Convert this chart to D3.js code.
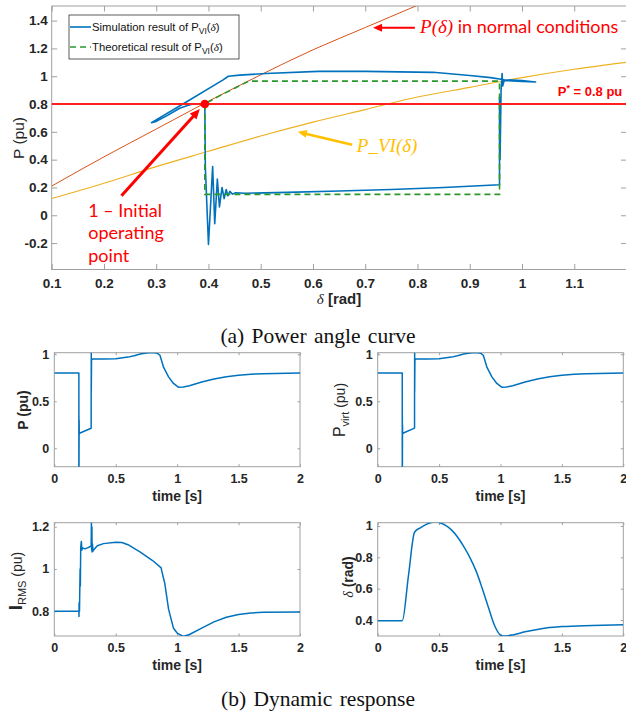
<!DOCTYPE html>
<html>
<head>
<meta charset="utf-8">
<script src="https://cdn.jsdelivr.net/npm/d3@7"></script>
<style>
  body { margin: 0; background: #fff; }
  svg { display: block; }
</style>
</head>
<body>
<svg id="chart" width="626" height="717"></svg>
<script>
// ---------- power angle plane (delta in rad, P in pu)
var pNormalDelta = [0.1, 0.2, 0.3, 0.4, 0.5, 0.6, 0.7, 0.8];
var pNormalP     = [0.21, 0.42, 0.62, 0.82, 1.01, 1.19, 1.35, 1.51];

var pVIDelta = [0.1, 0.2, 0.3, 0.4, 0.5, 0.6, 0.7, 0.8, 0.9, 1.0, 1.1, 1.2];
var pVIP     = [0.12, 0.23, 0.35, 0.46, 0.57, 0.67, 0.76, 0.85, 0.92, 0.99, 1.05, 1.10];

// simulated trajectory in the P-delta plane
var simDelta = [0.393, 0.394, 0.400, 0.408, 0.412, 0.417, 0.421, 0.426, 0.430, 0.434, 0.437, 0.441, 0.446, 0.452,
                0.47, 0.55, 0.65, 0.75, 0.85, 0.957,
                0.957, 0.958, 0.960, 0.962, 0.963, 0.966, 1.00, 1.026, 1.00, 0.966,
                0.94, 0.90, 0.83, 0.70, 0.61, 0.51, 0.46, 0.438, 0.428, 0.36, 0.291,
                0.30, 0.32, 0.345, 0.36, 0.37];
var simP     = [0.80, 0.35, -0.21, 0.35, -0.06, 0.26, 0.06, 0.20, 0.12, 0.185, 0.14, 0.172, 0.152, 0.162,
                0.158, 0.165, 0.175, 0.185, 0.20, 0.22,
                0.85, 0.40, 0.90, 1.02, 0.93, 0.97, 0.962, 0.958, 0.968, 0.975,
                0.99, 1.005, 1.028, 1.035, 1.035, 1.02, 1.008, 1.0, 0.974, 0.82, 0.666,
                0.675, 0.715, 0.77, 0.79, 0.80];

// theoretical trajectory
var theoDelta = [0.393, 0.393, 0.957, 0.957, 0.477, 0.45, 0.42, 0.393];
var theoP     = [0.80, 0.15, 0.15, 0.965, 0.965, 0.914, 0.857, 0.80];

var pRef = 0.8;
var initPoint = [0.393, 0.8];

var topXTicks = [0.1, 0.2, 0.3, 0.4, 0.5, 0.6, 0.7, 0.8, 0.9, 1, 1.1];
var topYTicks = [-0.2, 0, 0.2, 0.4, 0.6, 0.8, 1, 1.2, 1.4];

// ---------- dynamic response
var pTime  = [0, 0.2, 0.2, 0.2005, 0.201, 0.202, 0.203, 0.205, 0.3, 0.3, 0.301, 0.301, 0.303, 0.31,
              0.4, 0.5, 0.6, 0.65, 0.7, 0.75, 0.8, 0.84, 0.86, 0.89, 0.93, 0.97, 1.01, 1.05,
              1.1, 1.2, 1.3, 1.4, 1.5, 1.6, 1.7, 1.8, 2.0];
var pValue = [0.8, 0.8, -0.2, 0.35, -0.2, 0.3, 0.15, 0.16, 0.213, 0.45, 1.02, 0.6, 0.94, 0.95,
              0.95, 0.953, 0.97, 0.985, 1.003, 1.015, 1.02, 1.01, 0.99, 0.86, 0.76, 0.69, 0.65, 0.652,
              0.665, 0.705, 0.738, 0.762, 0.778, 0.788, 0.794, 0.797, 0.8];

var pVirtTime  = [0, 0.2, 0.2, 0.2005, 0.201, 0.202, 0.203, 0.205, 0.3, 0.3, 0.301, 0.301, 0.303, 0.31,
                  0.4, 0.5, 0.6, 0.65, 0.7, 0.75, 0.8, 0.84, 0.86, 0.89, 0.93, 0.97, 1.01, 1.05,
                  1.1, 1.2, 1.3, 1.4, 1.5, 1.6, 1.7, 1.8, 2.0];
var pVirtValue = [0.8, 0.8, -0.2, 0.35, -0.2, 0.25, 0.15, 0.16, 0.215, 0.45, 1.02, 0.6, 0.94, 0.95,
                  0.95, 0.953, 0.97, 0.985, 1.003, 1.015, 1.02, 1.01, 0.99, 0.86, 0.76, 0.69, 0.65, 0.652,
                  0.665, 0.705, 0.738, 0.762, 0.778, 0.788, 0.794, 0.797, 0.8];

var iTime  = [0, 0.2, 0.201, 0.202, 0.205, 0.21, 0.212, 0.215, 0.22, 0.225, 0.23, 0.25, 0.27, 0.29, 0.3,
              0.302, 0.304, 0.306, 0.308, 0.31, 0.315, 0.32, 0.35, 0.4, 0.5, 0.55, 0.6, 0.7, 0.8, 0.87,
              0.875, 0.9, 0.93, 0.97, 1.0, 1.05, 1.1, 1.2, 1.3, 1.4, 1.5, 1.6, 1.7, 2.0];
var iValue = [0.8, 0.8, 0.775, 0.84, 0.80, 1.0, 0.92, 1.10, 1.13, 1.09, 1.10, 1.095, 1.10, 1.105, 1.11,
              1.22, 1.09, 1.2, 1.08, 1.12, 1.085, 1.09, 1.11, 1.12, 1.127, 1.125, 1.115, 1.08, 1.04, 1.005,
              0.99, 0.93, 0.81, 0.72, 0.697, 0.681, 0.69, 0.72, 0.75, 0.772, 0.785, 0.792, 0.795, 0.797];

var dTime  = [0, 0.2, 0.25, 0.3, 0.35, 0.4, 0.47, 0.5, 0.55, 0.6, 0.65, 0.7, 0.75, 0.8, 0.85,
              0.9, 0.95, 1.0, 1.03, 1.1, 1.2, 1.3, 1.4, 1.5, 1.75, 2.0];
var dValue = [0.395, 0.395, 0.68, 0.96, 0.99, 1.012, 1.025, 1.022, 1.005, 0.975, 0.93, 0.87, 0.80, 0.715, 0.605,
              0.485, 0.368, 0.304, 0.298, 0.305, 0.325, 0.34, 0.352, 0.358, 0.365, 0.37];

var timeTicks = [0, 0.5, 1, 1.5, 2];
var pTicks    = [0, 0.5, 1];
var iTicks    = [0.8, 1, 1.2];
var dTicks    = [0.4, 0.6, 0.8, 1];

var BLUE = "#0072BD", ORANGE = "#D95319", GOLD = "#EDB120", GREEN = "#2a982a", RED = "#ff2020";
var SANS = "'Liberation Sans', Arial, sans-serif";
var SERIF = "'Liberation Serif', 'Times New Roman', serif";

var svg = d3.select("#chart");
var defs = svg.append("defs");

function zip(a, b) { return a.map(function(v, k) { return [v, b[k]]; }); }

// MATLAB-like box axes with inward ticks on all four sides
function frame(x, y, opt) {
    let left = x.range()[0], right = x.range()[1];
    let bottom = y.range()[0], top = y.range()[1];
    let g = svg.append("g");

    defs.append("clipPath").attr("id", opt.id)
        .append("rect").attr("x", left).attr("y", top)
        .attr("width", right - left).attr("height", bottom - top);

    g.append("rect").attr("x", left).attr("y", top)
        .attr("width", right - left).attr("height", bottom - top)
        .attr("fill", "none").attr("stroke", "#a0a0a0").attr("stroke-width", 1);

    let none = function() { return ""; };
    g.append("g").attr("transform", "translate(0," + bottom + ")")
        .call(d3.axisBottom(x).tickValues(opt.xTicks).tickFormat(String)
            .tickSizeInner(-opt.tick).tickSizeOuter(0).tickPadding(opt.xPad));
    g.append("g").attr("transform", "translate(0," + top + ")")
        .call(d3.axisTop(x).tickValues(opt.xTicks).tickFormat(none).tickSizeInner(-opt.tick).tickSizeOuter(0));
    g.append("g").attr("transform", "translate(" + left + ",0)")
        .call(d3.axisLeft(y).tickValues(opt.yTicks).tickFormat(String)
            .tickSizeInner(-opt.tick).tickSizeOuter(0).tickPadding(opt.yPad));
    g.append("g").attr("transform", "translate(" + right + ",0)")
        .call(d3.axisRight(y).tickValues(opt.yTicks).tickFormat(none).tickSizeInner(-opt.tick).tickSizeOuter(0));

    g.selectAll(".domain").remove();
    g.selectAll(".tick line").attr("stroke", "#a0a0a0");
    g.selectAll(".tick text")
        .attr("fill", "#262626")
        .attr("font-family", SANS)
        .attr("font-weight", "bold")
        .attr("font-size", opt.fontSize);
    return g;
}

// text made of styled parts (used for subscripts and math symbols)
function richText(g, x, y, parts, opt) {
    let t = g.append("text")
        .attr("x", x).attr("y", y)
        .attr("font-family", SANS)
        .attr("fill", opt.fill || "#262626")
        .attr("text-anchor", opt.anchor || "start");
    if (opt.rotate) {
        t.attr("transform", "rotate(-90," + x + "," + y + ")");
    }
    parts.forEach(function(p) {
        let s = t.append("tspan").text(p.t)
            .attr("font-size", p.size)
            .attr("font-weight", p.weight || "normal");
        if (p.family) s.attr("font-family", p.family);
        if (p.style) s.attr("font-style", p.style);
        if (p.dy) s.attr("dy", p.dy);
    });
    return t;
}

function arrow(g, from, to, color, width, headLen, headWid) {
    let dx = to[0] - from[0], dy = to[1] - from[1];
    let len = Math.sqrt(dx * dx + dy * dy);
    let ux = dx / len, uy = dy / len;
    let bx = to[0] - ux * headLen, by = to[1] - uy * headLen;
    g.append("line")
        .attr("x1", from[0]).attr("y1", from[1])
        .attr("x2", bx + ux).attr("y2", by + uy)
        .attr("stroke", color).attr("stroke-width", width);
    g.append("path")
        .attr("d", "M" + to[0] + "," + to[1] +
            "L" + (bx - uy * headWid / 2) + "," + (by + ux * headWid / 2) +
            "L" + (bx + uy * headWid / 2) + "," + (by - ux * headWid / 2) + "Z")
        .attr("fill", color);
}

// ---------------- (a) power angle curve
function drawTop() {
    let x = d3.scaleLinear().domain([0.1, 1.2]).range([51.7, 626.5]);
    let y = d3.scaleLinear().domain([-0.39, 1.505]).range([269.5, 6]);

    frame(x, y, { id: "clipTop", xTicks: topXTicks, yTicks: topYTicks, tick: 5.5,
                  xPad: 8.5, yPad: 4, fontSize: 13.5 });

    let smooth = d3.line().x(function(d) { return x(d[0]); }).y(function(d) { return y(d[1]); })
        .curve(d3.curveMonotoneX);
    let straight = d3.line().x(function(d) { return x(d[0]); }).y(function(d) { return y(d[1]); });

    let lines = svg.append("g").attr("clip-path", "url(#clipTop)");

    lines.append("path").datum(zip(pNormalDelta, pNormalP)).attr("d", smooth)
        .attr("fill", "none").attr("stroke", ORANGE).attr("stroke-width", 1);
    lines.append("path").datum(zip(pVIDelta, pVIP)).attr("d", smooth)
        .attr("fill", "none").attr("stroke", GOLD).attr("stroke-width", 1.1);

    lines.append("path").datum(zip(simDelta, simP)).attr("d", straight)
        .attr("fill", "none").attr("stroke", BLUE).attr("stroke-width", 1.6)
        .attr("stroke-linejoin", "round");
    lines.append("path").datum(zip(theoDelta, theoP)).attr("d", straight)
        .attr("fill", "none").attr("stroke", GREEN).attr("stroke-width", 1.6)
        .attr("stroke-dasharray", "6,4");

    lines.append("line")
        .attr("x1", x.range()[0]).attr("x2", x.range()[1])
        .attr("y1", y(pRef)).attr("y2", y(pRef))
        .attr("stroke", RED).attr("stroke-width", 2);

    lines.append("circle").attr("cx", x(initPoint[0])).attr("cy", y(initPoint[1]))
        .attr("r", 4.3).attr("fill", "#ff0000");

    // annotations
    let ann = svg.append("g");
    arrow(ann, [x(0.2335), y(0.14)], [x(0.3835), y(0.764)], "#ff0000", 3, 10, 9);
    arrow(ann, [x(0.795), y(1.349)], [x(0.715), y(1.349)], "#ff0000", 2, 9, 8);
    arrow(ann, [x(0.675), y(0.507)], [x(0.571), y(0.60)], "#FFC000", 2.5, 9, 8);

    ["1 \u2013 Initial", "operating", "point"].forEach(function(s, k) {
        ann.append("text").attr("x", x(0.17)).attr("y", y(-0.012) + k * 22.5)
            .attr("font-family", "Lato, 'Open Sans', sans-serif").attr("font-size", 18)
            .attr("fill", "#ff0000").text(s);
    });

    richText(ann, x(0.805), y(1.31), [
        { t: "P(\u03b4)", size: 19, family: SERIF, style: "italic" },
        { t: " in normal conditions", size: 18, family: "Lato, 'Open Sans', sans-serif" }
    ], { fill: "#ff0000" });

    richText(ann, x(0.684), y(0.455), [
        { t: "P_VI(\u03b4)", size: 19, family: SERIF, style: "italic" }
    ], { fill: "#FFC000" });

    richText(ann, x(1.192), y(0.855), [
        { t: "P", size: 13, weight: "bold" },
        { t: "*", size: 9, weight: "bold", dy: -5 },
        { t: " = 0.8 pu", size: 13, weight: "bold", dy: 5 }
    ], { fill: "#ff0000", anchor: "end" });

    // legend
    let leg = svg.append("g");
    leg.append("rect").attr("x", 69).attr("y", 15).attr("width", 170).attr("height", 44)
        .attr("fill", "#fff").attr("stroke", "#333").attr("stroke-width", 0.8);
    leg.append("line").attr("x1", 70).attr("x2", 91).attr("y1", 27).attr("y2", 27)
        .attr("stroke", BLUE).attr("stroke-width", 1.6);
    leg.append("line").attr("x1", 70).attr("x2", 91).attr("y1", 47).attr("y2", 47)
        .attr("stroke", GREEN).attr("stroke-width", 1.6).attr("stroke-dasharray", "6,4");
    ["Simulation result of P", "Theoretical result of P"].forEach(function(s, k) {
        richText(leg, 92, 31 + k * 20, [
            { t: s, size: 11.3 },
            { t: "VI", size: 8.5, dy: 3 },
            { t: "(", size: 11.3, dy: -3 },
            { t: "\u03b4", size: 11.3, family: SERIF, style: "italic" },
            { t: ")", size: 11.3 }
        ], { fill: "#111" });
    });

    // axis labels
    richText(svg, 339, 304, [
        { t: "\u03b4", size: 15, family: SERIF, style: "italic" },
        { t: " [rad]", size: 15, weight: "bold" }
    ], { anchor: "middle" });
    richText(svg, 24, 138, [{ t: "P (pu)", size: 15.5 }], { anchor: "middle", rotate: true });
}

// ---------------- (b) dynamic response panels
function panel(id, xRange, yRange, yDomain, yTicks, times, values, curve) {
    let x = d3.scaleLinear().domain([0, 2]).range(xRange);
    let y = d3.scaleLinear().domain(yDomain).range(yRange);
    frame(x, y, { id: id, xTicks: timeTicks, yTicks: yTicks, tick: 2.5,
                  xPad: 7.5, yPad: 5, fontSize: 12.5 });
    let line = d3.line().x(function(d) { return x(d[0]); }).y(function(d) { return y(d[1]); })
        .curve(curve || d3.curveLinear);
    svg.append("g").attr("clip-path", "url(#" + id + ")")
        .append("path").datum(zip(times, values)).attr("d", line)
        .attr("fill", "none").attr("stroke", BLUE).attr("stroke-width", 1.5)
        .attr("stroke-linejoin", "round");
    richText(svg, (xRange[0] + xRange[1]) / 2, yRange[0] + 34, [
        { t: "time [s]", size: 14, weight: "bold" }
    ], { anchor: "middle" });
}

function drawBottom() {
    let L = [54.3, 300], R = [377.7, 623.3];
    let row1 = [466.7, 352.7], row2 = [636, 522.7];

    panel("clipP", L, row1, [-0.196, 1.017], pTicks, pTime, pValue);
    panel("clipPv", R, row1, [-0.196, 1.017], pTicks, pVirtTime, pVirtValue);
    panel("clipI", L, row2, [0.683, 1.219], iTicks, iTime, iValue);
    panel("clipD", R, row2, [0.298, 1.021], dTicks, dTime, dValue, d3.curveMonotoneX);

    richText(svg, 28, 410, [{ t: "P (pu)", size: 14, weight: "bold" }], { anchor: "middle", rotate: true });
    richText(svg, 345, 410, [
        { t: "P", size: 16 },
        { t: "virt", size: 11, dy: 4 },
        { t: " (pu)", size: 14, dy: -4 }
    ], { anchor: "middle", rotate: true });
    richText(svg, 22, 581, [
        { t: "I", size: 19, weight: "bold" },
        { t: "RMS", size: 11, dy: 4 },
        { t: " (pu)", size: 14, dy: -4 }
    ], { anchor: "middle", rotate: true });
    richText(svg, 353, 577, [
        { t: "\u03b4", size: 14, family: SERIF, style: "italic" },
        { t: " (rad)", size: 14, weight: "bold" }
    ], { anchor: "middle", rotate: true });
}

function captions() {
    [["(a) Power angle curve", 343], ["(b) Dynamic response", 706]].forEach(function(c) {
        svg.append("text").attr("x", 318).attr("y", c[1])
            .attr("text-anchor", "middle")
            .attr("font-family", SERIF).attr("font-size", 21.5)
            .attr("word-spacing", 2)
            .attr("fill", "#111").text(c[0]);
    });
}

drawTop();
drawBottom();
captions();
</script>
</body>
</html>
